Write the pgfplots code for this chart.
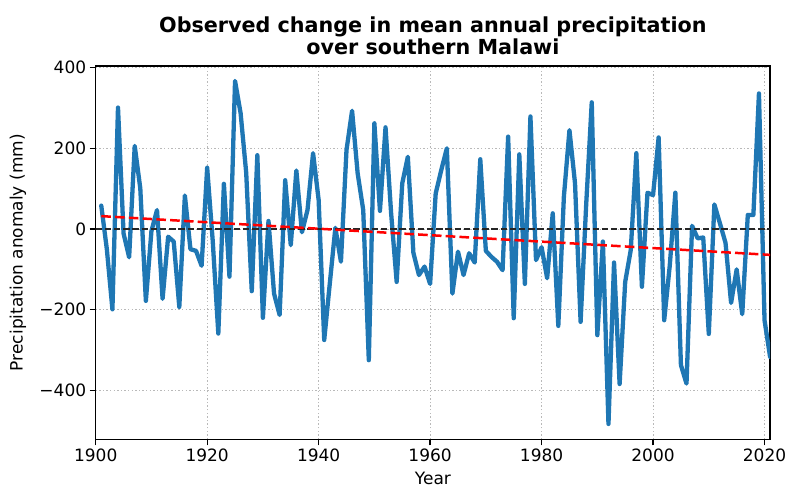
\documentclass[border=0pt]{standalone}
\usepackage{fontspec}
\setmainfont{DejaVu Sans}
\usepackage{pgfplots}
\pgfplotsset{compat=1.18}
\definecolor{mplblue}{HTML}{1F77B4}
\begin{document}
\begin{tikzpicture}
\useasboundingbox (-95.7pt,-49.7pt) rectangle (691.3pt,439.3pt);
\begin{axis}[
  at={(0,0)}, anchor=south west,
  scale only axis, width=674.4pt, height=373.3pt,
  xmin=1900, xmax=2021, ymin=-521, ymax=404,
  xtick={1900,1920,1940,1960,1980,2000,2020},
  xticklabels={1900,1920,1940,1960,1980,2000,2020},
  ytick={-400,-200,0,200,400},
  yticklabels={−400,−200,0,200,400},
  tick pos=left,
  tick align=outside, major tick length=6pt,
  every tick/.style={black, line width=1.3pt},
  tick label style={font=\fontsize{17}{20}\selectfont},
  axis line style={line width=1.3pt},
  grid=major,
  grid style={gray!55, line width=0.8pt, dash pattern=on 1.4pt off 2.2pt},
  title={Observed change in mean annual precipitation\\over southern Malawi},
  title style={font=\fontsize{20.7}{22.5}\selectfont\bfseries, align=center,
    at={(axis description cs:0.5,1)}, anchor=south, inner sep=0pt, yshift=5pt},
  xlabel={Year},
  xlabel style={font=\fontsize{17}{20}\selectfont, inner sep=0pt, at={(axis description cs:0.5,-0.105)}, anchor=center},
  ylabel={Precipitation anomaly (mm)},
  ylabel style={font=\fontsize{17}{20}\selectfont, at={(axis description cs:-0.1152,0.5)}, anchor=center},
  clip=true,
]
\addplot[mplblue, line width=4.3pt, line join=round, line cap=round] coordinates {
(1901,58) (1902,-50) (1903,-199) (1904,301) (1905,-11) (1906,-70) (1907,206) (1908,101) (1909,-178) (1910,-5)
(1911,47) (1912,-173) (1913,-19) (1914,-31) (1915,-193) (1916,83) (1917,-50) (1918,-54) (1919,-91) (1920,152)
(1921,-30) (1922,-259) (1923,112) (1924,-118) (1925,367) (1926,287) (1927,140) (1928,-154) (1929,183) (1930,-220)
(1931,20) (1932,-160) (1933,-213) (1934,121) (1935,-40) (1936,145) (1937,-8) (1938,47) (1939,188) (1940,72)
(1941,-275) (1942,-135) (1943,3) (1944,-81) (1945,196) (1946,293) (1947,138) (1948,47) (1949,-325) (1950,262)
(1951,45) (1952,252) (1953,40) (1954,-131) (1955,113) (1956,179) (1957,-59) (1958,-114) (1959,-93) (1960,-136)
(1961,88) (1962,146) (1963,200) (1964,-160) (1965,-56) (1966,-114) (1967,-60) (1968,-83) (1969,173) (1970,-54)
(1971,-69) (1972,-81) (1973,-102) (1974,229) (1975,-221) (1976,185) (1977,-136) (1978,279) (1979,-77) (1980,-45)
(1981,-122) (1982,39) (1983,-240) (1984,80) (1985,245) (1986,113) (1987,-230) (1988,60) (1989,314) (1990,-263)
(1991,-31) (1992,-483) (1993,-83) (1994,-384) (1995,-131) (1996,-52) (1997,188) (1998,-143) (1999,90) (2000,84)
(2001,227) (2002,-226) (2003,-90) (2004,90) (2005,-337) (2006,-383) (2007,8) (2008,-23) (2009,-21) (2010,-260)
(2011,61) (2012,14) (2013,-34) (2014,-183) (2015,-100) (2016,-211) (2017,35) (2018,35) (2019,336) (2020,-226)
(2021,-317)
};
\addplot[black!85, line width=1.7pt, dash pattern=on 6.4pt off 2.8pt] coordinates {(1900,0) (2021,0)};
\addplot[red, line width=2.5pt, dash pattern=on 9.6pt off 4.2pt] coordinates {(1901,32) (2021,-64)};
\end{axis}
\end{tikzpicture}
\end{document}
